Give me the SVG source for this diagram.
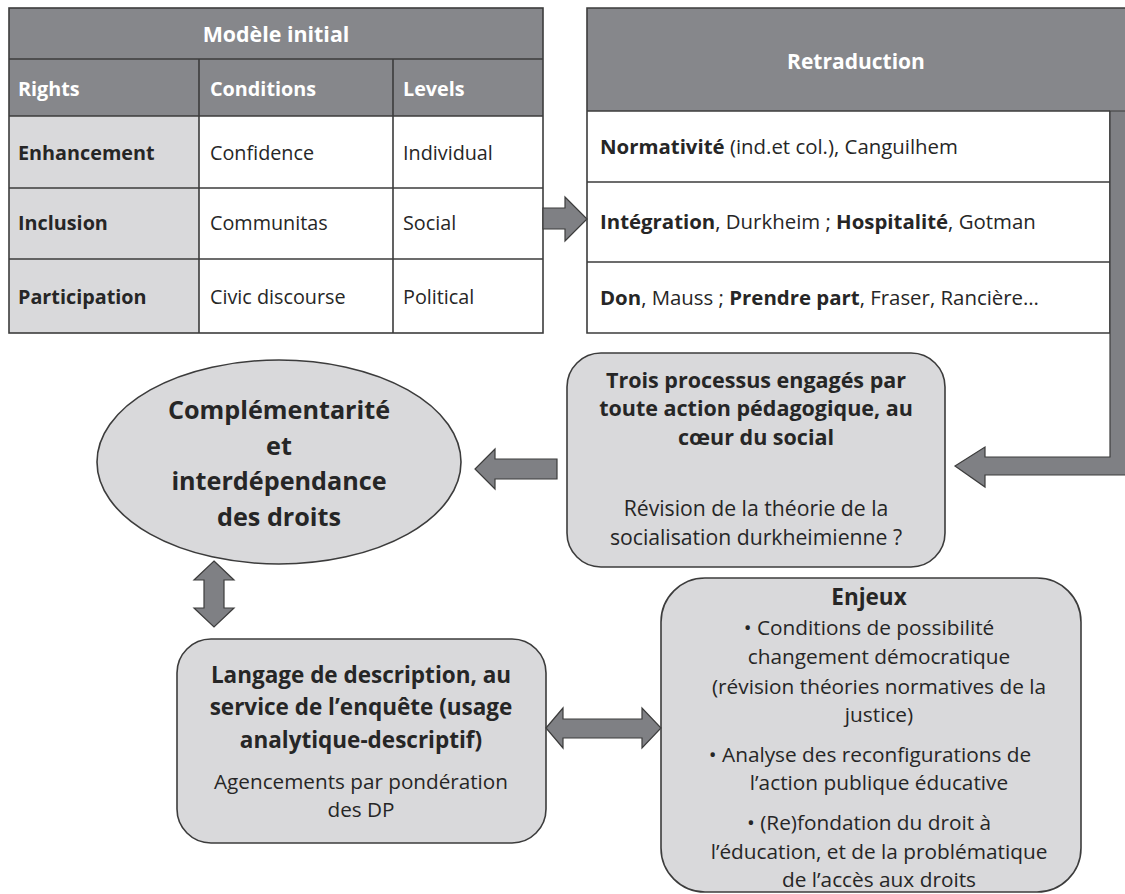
<svg xmlns="http://www.w3.org/2000/svg" width="1125" height="894" viewBox="0 0 1125 894">
<style>
text{font-family:"Open Sans","Liberation Sans",sans-serif;fill:#262626}
.hd{fill:#86878b}
.lt{fill:#d9d9db}
.wh{fill:#ffffff}
.ln{stroke:#3c3c3c;stroke-width:1.6;fill:none}
.b{font-weight:bold}
.w{fill:#ffffff;font-weight:bold}
.t{font-size:19.8px}
.r{font-size:20.4px}
.node{fill:#d9d9db;stroke:#3c3c3c;stroke-width:1.6}
.arr{fill:#7f8084;stroke:#3c3c3c;stroke-width:1.2}
.c{text-anchor:middle}
.e{font-size:20.8px;text-anchor:middle}
</style>
<rect width="1125" height="894" fill="#ffffff"/>
<g id="table-initial">
<rect class="hd" x="9" y="8" width="534" height="108"/>
<rect class="lt" x="9" y="116" width="190" height="217"/>
<rect class="wh" x="199" y="116" width="344" height="217"/>
<rect class="ln" x="9" y="8" width="534" height="325"/>
<path class="ln" d="M9 59H543M9 116H543M9 188H543M9 259H543M199 59V333M393 59V333"/>
<text class="w c" font-size="21.4" x="276" y="42">Modèle initial</text>
<text class="w t" x="18" y="96">Rights</text>
<text class="w t" x="210" y="96">Conditions</text>
<text class="w t" x="403" y="96">Levels</text>
<text class="b t" x="18" y="160">Enhancement</text>
<text class="t" x="210" y="160">Confidence</text>
<text class="t" x="403" y="160">Individual</text>
<text class="b t" x="18" y="230">Inclusion</text>
<text class="t" x="210" y="230">Communitas</text>
<text class="t" x="403" y="230">Social</text>
<text class="b t" x="18" y="304">Participation</text>
<text class="t" x="210" y="304">Civic discourse</text>
<text class="t" x="403" y="304">Political</text>
</g>
<g id="table-retraduction">
<rect class="hd" x="587" y="8" width="540" height="103"/>
<rect class="wh" x="587" y="111" width="523" height="222"/>
<path class="ln" d="M1127 8H587V333H1110V111M587 111H1110M587 182H1110M587 262H1110"/>
<text class="w c" font-size="21" x="856" y="69">Retraduction</text>
<text class="r" x="600" y="154"><tspan class="b">Normativité</tspan> (ind.et col.), Canguilhem</text>
<text class="r" x="600" y="229"><tspan class="b">Intégration</tspan>, Durkheim ; <tspan class="b">Hospitalité</tspan>, Gotman</text>
<text class="r" x="600" y="305"><tspan class="b">Don</tspan>, Mauss ; <tspan class="b">Prendre part</tspan>, Fraser, Rancière…</text>
</g>
<g id="complementarite">
<ellipse class="node" cx="279" cy="462" rx="182" ry="102"/>
<text class="b c" font-size="25.2" x="279" y="419">Complémentarité</text>
<text class="b c" font-size="25.2" x="279" y="455">et</text>
<text class="b c" font-size="25.2" x="279" y="490">interdépendance</text>
<text class="b c" font-size="25.2" x="279" y="526">des droits</text>
</g>
<g id="trois-processus">
<rect class="node" x="567" y="353" width="378" height="214" rx="34"/>
<text class="b c" font-size="21.5" x="756" y="388">Trois processus engagés par</text>
<text class="b c" font-size="21.5" x="756" y="416">toute action pédagogique, au</text>
<text class="b c" font-size="21.5" x="756" y="445">cœur du social</text>
<text class="c" font-size="21.2" x="756" y="516">Révision de la théorie de la</text>
<text class="c" font-size="21.2" x="756" y="545">socialisation durkheimienne ?</text>
</g>
<g id="langage">
<rect class="node" x="177" y="639" width="369" height="204" rx="34"/>
<text class="b c" font-size="22.5" x="361" y="683">Langage de description, au</text>
<text class="b c" font-size="22.5" x="361" y="715">service de l’enquête (usage</text>
<text class="b c" font-size="22.5" x="361" y="748">analytique-descriptif)</text>
<text class="c" font-size="20.7" x="361" y="789">Agencements par pondération</text>
<text class="c" font-size="20.7" x="361" y="817">des DP</text>
</g>
<g id="enjeux">
<rect class="node" x="661" y="578" width="420" height="314" rx="44"/>
<text class="b c" font-size="22.5" x="869" y="605">Enjeux</text>
<text class="e" x="869" y="635">•  Conditions de possibilité</text>
<text class="e" x="879" y="664">changement démocratique</text>
<text class="e" x="879" y="694">(révision théories normatives de la</text>
<text class="e" x="879" y="722">justice)</text>
<text class="e" x="870" y="762">•  Analyse des reconfigurations de</text>
<text class="e" x="879" y="790">l’action publique éducative</text>
<text class="e" x="869" y="830">•  (Re)fondation du droit à</text>
<text class="e" x="879" y="859">l’éducation, et de la problématique</text>
<text class="e" x="879" y="887">de l’accès aux droits</text>
</g>
<g id="connectors">
<polygon class="arr" points="543,208 565,208 565,197 587,219 565,241 565,229 543,229"/>
<polygon class="arr" points="1127,111 1127,475 985,475 985,487 955,466 985,447 985,457 1110,457 1110,111" stroke="none"/>
<polygon class="arr" points="557,459 495,459 495,449 475,469 495,489 495,479 557,479"/>
<polygon class="arr" points="214,561 234,580 224,580 224,608 234,608 214,627 194,608 204,608 204,580 194,580"/>
<polygon class="arr" points="546,728 563,708 563,719 642,719 642,708 661,728 642,748 642,738 563,738 563,748"/>
</g>
</svg>
